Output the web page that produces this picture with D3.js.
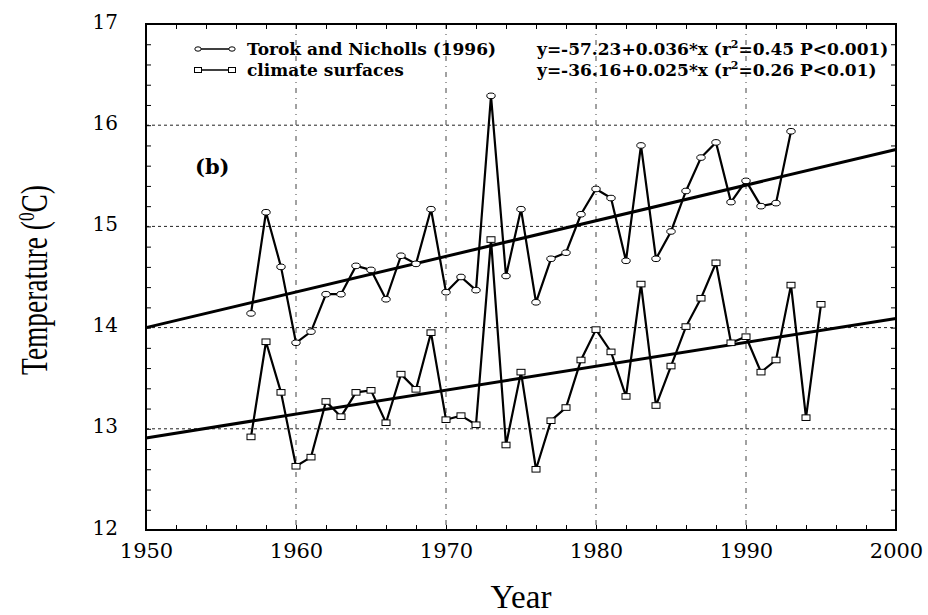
<!DOCTYPE html>
<html>
<head>
<meta charset="utf-8">
<script src="https://cdn.jsdelivr.net/npm/d3@7"></script>
<style>
  body { margin: 0; background: #fff; }
  svg { display: block; }
</style>
</head>
<body>
<div id="chart"></div>
<script>
// Years and values
const torokYears = d3.range(1957, 1994);
const torokTemps = [14.14, 15.14, 14.60, 13.85, 13.96, 14.33, 14.33, 14.61, 14.57, 14.28,
  14.71, 14.63, 15.17, 14.35, 14.50, 14.37, 16.29, 14.51, 15.17, 14.25,
  14.68, 14.74, 15.12, 15.37, 15.28, 14.66, 15.80, 14.68, 14.95, 15.35,
  15.68, 15.83, 15.24, 15.45, 15.20, 15.23, 15.94];

const surfYears = d3.range(1957, 1996);
const surfTemps = [12.92, 13.86, 13.36, 12.63, 12.72, 13.27, 13.12, 13.36, 13.38, 13.06,
  13.54, 13.39, 13.95, 13.09, 13.13, 13.04, 14.87, 12.84, 13.56, 12.60,
  13.08, 13.21, 13.68, 13.98, 13.76, 13.32, 14.43, 13.23, 13.62, 14.01,
  14.29, 14.64, 13.85, 13.91, 13.56, 13.68, 14.42, 13.11, 14.23];

// fitted trend lines, end points as drawn
const trendYears = [1950, 2000];
const torokTrend = [14.00, 15.76];
const surfTrend = [12.91, 14.09];

const xTicks = [1950, 1960, 1970, 1980, 1990, 2000];
const yTicks = [12, 13, 14, 15, 16, 17];
const legendLabels = ["Torok and Nicholls (1996)", "climate surfaces"];
const eqLabels = [
  ["y=-57.23+0.036*x (r", "=0.45 P<0.001)"],
  ["y=-36.16+0.025*x (r", "=0.26 P<0.01)"]
];

const width = 928, height = 615;
const margin = { top: 24, right: 32, bottom: 85, left: 146 };

const svg = d3.select("#chart").append("svg")
  .attr("width", width)
  .attr("height", height);

const x = d3.scaleLinear().domain([1950, 2000]).range([margin.left, width - margin.right]);
const y = d3.scaleLinear().domain([12, 17]).range([height - margin.bottom, margin.top]);

const serif = "'DejaVu Serif', serif";

// gridlines
svg.append("g")
  .selectAll("line")
  .data(yTicks.slice(1, -1))
  .join("line")
  .attr("x1", x(1950)).attr("x2", x(2000))
  .attr("y1", d => y(d)).attr("y2", d => y(d))
  .attr("stroke", "#222").attr("stroke-width", 1)
  .attr("stroke-dasharray", "3,3");

svg.append("g")
  .selectAll("line")
  .data(xTicks.slice(1, -1))
  .join("line")
  .attr("x1", d => x(d)).attr("x2", d => x(d))
  .attr("y1", y(17)).attr("y2", y(12))
  .attr("stroke", "#444").attr("stroke-width", 1)
  .attr("stroke-dasharray", "5,5,1,5");

// inward ticks on all four sides
const yMinor = d3.range(12, 17.01, 0.2);
const xMinor = d3.range(1950, 2000.1, 2);
const tickStyle = g => {
  g.select(".domain").remove();
  g.selectAll("line").attr("stroke", "#000");
};
svg.append("g").attr("transform", `translate(${x(1950)},0)`)
  .call(d3.axisLeft(y).tickValues(yMinor).tickSize(-5).tickFormat(""))
  .call(tickStyle);
svg.append("g").attr("transform", `translate(${x(2000)},0)`)
  .call(d3.axisRight(y).tickValues(yMinor).tickSize(-5).tickFormat(""))
  .call(tickStyle);
svg.append("g").attr("transform", `translate(0,${y(12)})`)
  .call(d3.axisBottom(x).tickValues(xMinor).tickSize(-5).tickFormat(""))
  .call(tickStyle);
svg.append("g").attr("transform", `translate(0,${y(17)})`)
  .call(d3.axisTop(x).tickValues(xMinor).tickSize(-5).tickFormat(""))
  .call(tickStyle);

// tick labels
const yAxis = svg.append("g").attr("transform", `translate(${x(1950)},0)`)
  .call(d3.axisLeft(y).tickValues(yTicks).tickSize(0).tickPadding(28).tickFormat(d3.format("d")));
yAxis.select(".domain").remove();
yAxis.selectAll("text")
  .attr("font-family", serif).attr("font-size", 20).attr("fill", "#000")
  .attr("dy", "0.2em");

const xAxis = svg.append("g").attr("transform", `translate(0,${y(12)})`)
  .call(d3.axisBottom(x).tickValues(xTicks).tickSize(0).tickPadding(13).tickFormat(d3.format("d")));
xAxis.select(".domain").remove();
xAxis.selectAll("text")
  .attr("font-family", serif).attr("font-size", 21).attr("fill", "#000");

// frame
svg.append("rect")
  .attr("x", x(1950)).attr("y", y(17))
  .attr("width", x(2000) - x(1950)).attr("height", y(12) - y(17))
  .attr("fill", "none").attr("stroke", "#000").attr("stroke-width", 2);

// axis titles
svg.append("text")
  .attr("x", (x(1950) + x(2000)) / 2).attr("y", 608)
  .attr("text-anchor", "middle")
  .attr("font-family", "'Liberation Serif', serif")
  .attr("font-size", 33)
  .text("Year");

const yt = svg.append("text")
  .attr("transform", "translate(47,280) rotate(-90) scale(0.72,1)")
  .attr("text-anchor", "middle")
  .attr("font-family", "'Liberation Serif', serif")
  .attr("font-size", 38);
yt.append("tspan").text("Temperature (");
yt.append("tspan").attr("font-size", 24).attr("dy", -13).text("0");
yt.append("tspan").attr("dy", 13).text("C)");

// trend lines
const trendLine = d3.line().x(d => x(d[0])).y(d => y(d[1]));
[torokTrend, surfTrend].forEach(t => {
  svg.append("path")
    .datum(trendYears.map((yr, i) => [yr, t[i]]))
    .attr("d", trendLine)
    .attr("fill", "none").attr("stroke", "#000").attr("stroke-width", 3);
});

// data series
const line = d3.line().x(d => x(d[0])).y(d => y(d[1]));
const torok = torokYears.map((yr, i) => [yr, torokTemps[i]]);
const surf = surfYears.map((yr, i) => [yr, surfTemps[i]]);

svg.append("path").datum(torok).attr("d", line)
  .attr("fill", "none").attr("stroke", "#000").attr("stroke-width", 2.2)
  .attr("stroke-linejoin", "miter");
svg.append("path").datum(surf).attr("d", line)
  .attr("fill", "none").attr("stroke", "#000").attr("stroke-width", 2.2)
  .attr("stroke-linejoin", "miter");

svg.append("g").selectAll("ellipse")
  .data(torok).join("ellipse")
  .attr("cx", d => x(d[0])).attr("cy", d => y(d[1]))
  .attr("rx", 4.2).attr("ry", 2.8)
  .attr("fill", "#fff").attr("stroke", "#000").attr("stroke-width", 1);

svg.append("g").selectAll("rect")
  .data(surf).join("rect")
  .attr("x", d => x(d[0]) - 4).attr("y", d => y(d[1]) - 2.8)
  .attr("width", 8).attr("height", 5.6)
  .attr("fill", "#fff").attr("stroke", "#000").attr("stroke-width", 1);

// legend
const lg = svg.append("g").attr("transform", "translate(195,0)");
legendLabels.forEach((lab, i) => {
  const ly = 49 + i * 21;
  lg.append("line").attr("x1", 3).attr("x2", 37).attr("y1", ly).attr("y2", ly)
    .attr("stroke", "#000").attr("stroke-width", 1.5);
  if (i === 0) {
    [3, 37].forEach(cx => lg.append("ellipse").attr("cx", cx).attr("cy", ly)
      .attr("rx", 3.2).attr("ry", 2.2).attr("fill", "#fff").attr("stroke", "#000"));
  } else {
    [3, 37].forEach(cx => lg.append("rect").attr("x", cx - 3.5).attr("y", ly - 2.5)
      .attr("width", 7).attr("height", 5).attr("fill", "#fff").attr("stroke", "#000"));
  }
  lg.append("text").attr("x", 52).attr("y", ly + 6)
    .attr("font-family", serif).attr("font-weight", "bold").attr("font-size", 17)
    .text(lab);
});

// regression equations
eqLabels.forEach((parts, i) => {
  const t = svg.append("text").attr("x", 537).attr("y", 55 + i * 21)
    .attr("font-family", serif).attr("font-weight", "bold").attr("font-size", 17);
  t.append("tspan").text(parts[0]);
  t.append("tspan").attr("font-size", 11).attr("dy", -7).text("2");
  t.append("tspan").attr("dy", 7).text(parts[1]);
});

// panel tag
svg.append("text").attr("x", 195).attr("y", 174)
  .attr("font-family", serif).attr("font-weight", "bold").attr("font-size", 21)
  .text("(b)");
</script>
</body>
</html>
